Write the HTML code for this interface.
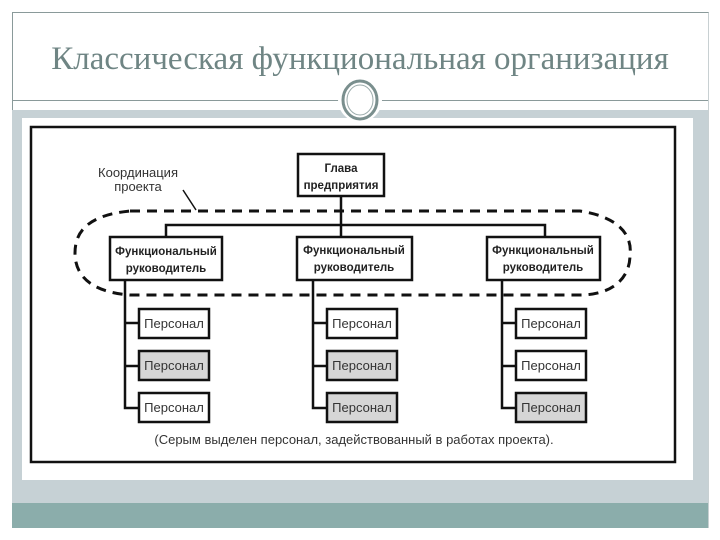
<!DOCTYPE html>
<html><head><meta charset="utf-8"><style>
body{margin:0;width:720px;height:540px;background:#fff;position:relative;overflow:hidden;font-family:"Liberation Sans",sans-serif}
.a{position:absolute}
</style></head><body>
<div class="a" style="left:12px;top:12px;width:695px;height:515px;border-left:1px solid #8a9a9a;border-top:1px solid #8a9a9a;border-right:1px solid #c8d0d2"></div>
<div class="a" style="left:0;top:41px;width:720px;text-align:center;font-family:'Liberation Serif',serif;font-size:33px;color:#6f8584">Классическая функциональная организация</div>
<div class="a" style="left:12px;top:100px;width:696px;height:1px;background:#8a9a9a"></div>
<div class="a" style="left:12px;top:110px;width:696px;height:393px;background:#c6d1d5"></div>
<div class="a" style="left:12px;top:503px;width:696px;height:25px;background:#8badab"></div>
<div class="a" style="left:22px;top:118px;width:671px;height:362px;background:#fff"></div>
<svg class="a" style="left:0;top:0" width="720" height="540">
<circle cx="360" cy="100" r="22" fill="#fff"/>
<ellipse cx="360" cy="100" rx="17" ry="19" fill="none" stroke="#7a8f8e" stroke-width="3"/>
<ellipse cx="360" cy="100" rx="13" ry="15" fill="none" stroke="#9aaaaa" stroke-width="1"/>
<rect x="31" y="127" width="644" height="335" fill="none" stroke="#111" stroke-width="2.5"/>
<g stroke="#111" stroke-width="2.5" fill="none">
<line x1="341" y1="196" x2="341" y2="237"/>
<polyline points="166,237 166,225 545,225 545,237"/>
<polyline points="125,280 125,408 139,408"/><line x1="125" y1="323" x2="139" y2="323"/><line x1="125" y1="366" x2="139" y2="366"/>
<polyline points="313,280 313,408 327,408"/><line x1="313" y1="323" x2="327" y2="323"/><line x1="313" y1="366" x2="327" y2="366"/>
<polyline points="502,280 502,408 516,408"/><line x1="502" y1="323" x2="516" y2="323"/><line x1="502" y1="366" x2="516" y2="366"/>
</g>
<path d="M130,211 L580,211 C625,218 632,240 630,255 C630,280 610,295 580,295 L130,295 C90,292 75,275 75,253 C75,230 90,215 130,211 Z" fill="none" stroke="#111" stroke-width="3" stroke-dasharray="10,7"/>
<line x1="183" y1="190" x2="196" y2="210" stroke="#111" stroke-width="1.5"/>
<g stroke="#111" stroke-width="2.5" fill="#fff">
<rect x="298" y="154" width="86" height="42"/>
<rect x="110" y="237" width="112" height="43"/>
<rect x="297" y="237" width="115" height="43"/>
<rect x="487" y="237" width="113" height="43"/>
<rect x="139" y="309" width="70" height="29"/>
<rect x="139" y="351" width="70" height="29" fill="#d6d6d6"/>
<rect x="139" y="393" width="70" height="29"/>
<rect x="327" y="309" width="70" height="29"/>
<rect x="327" y="351" width="70" height="29" fill="#d6d6d6"/>
<rect x="327" y="393" width="70" height="29" fill="#d6d6d6"/>
<rect x="516" y="309" width="70" height="29"/>
<rect x="516" y="351" width="70" height="29"/>
<rect x="516" y="393" width="70" height="29" fill="#d6d6d6"/>
</g>
<g font-family="Liberation Sans,sans-serif" text-anchor="middle" fill="#222">
<g font-weight="bold" font-size="11.5">
<text x="341" y="172">Глава</text><text x="341" y="189">предприятия</text>
<text x="166" y="255">Функциональный</text><text x="166" y="272">руководитель</text>
<text x="354" y="254">Функциональный</text><text x="354" y="271">руководитель</text>
<text x="543" y="254">Функциональный</text><text x="543" y="271">руководитель</text>
</g>
<g font-size="13" fill="#333">
<text x="174" y="328">Персонал</text><text x="174" y="370">Персонал</text><text x="174" y="412">Персонал</text>
<text x="362" y="328">Персонал</text><text x="362" y="370">Персонал</text><text x="362" y="412">Персонал</text>
<text x="551" y="328">Персонал</text><text x="551" y="370">Персонал</text><text x="551" y="412">Персонал</text>
<text x="138" y="177">Координация</text><text x="138" y="191">проекта</text>
<text x="354" y="444">(Серым выделен персонал, задействованный в работах проекта).</text>
</g></g>
</svg>
</body></html>
